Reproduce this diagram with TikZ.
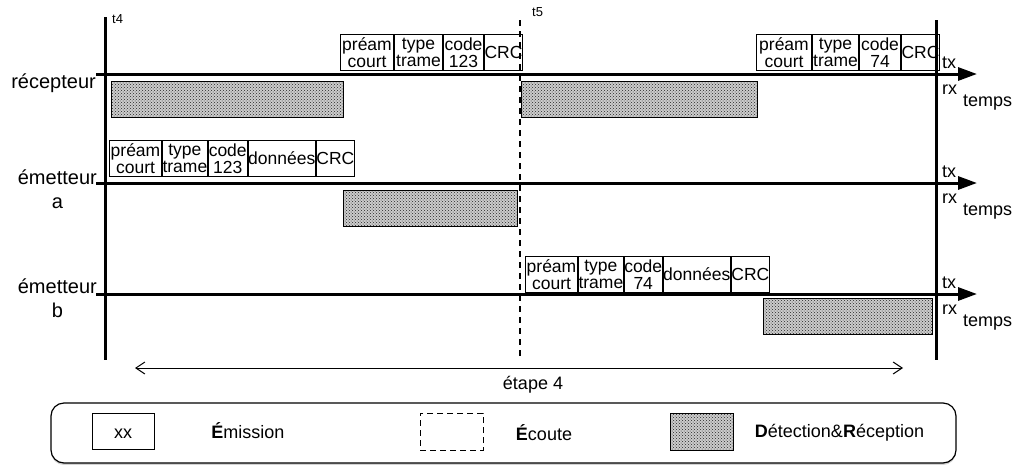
\documentclass[tikz,border=0pt]{standalone}
\usepackage{fontspec}
\setmainfont{Liberation Sans}
\usetikzlibrary{positioning,patterns,arrows.meta,shadows}

\begin{document}
\begin{tikzpicture}[x=1pt, y=-1pt,
    champ/.style={draw, line width=1pt, inner sep=0pt, minimum height=36pt,
        align=center, font=\fontsize{17.5}{17.5}\selectfont},
    recep/.style={draw, line width=1pt, inner sep=0pt, minimum height=36pt,
        preaction={fill=gray!40}, pattern=crosshatch dots, pattern color=black!85},
    axe/.style={line width=3pt},
    fleche/.style={line width=3pt, -{Triangle[length=19pt, width=13pt]}},
    lbl/.style={inner sep=0pt, align=center, font=\fontsize{20}{24}\selectfont},
    txrx/.style={inner sep=0pt, anchor=base west, font=\fontsize{18}{18}\selectfont},
    petit/.style={inner sep=0pt, anchor=base west, font=\fontsize{13}{13}\selectfont},
    leg/.style={inner sep=0pt, anchor=base, font=\fontsize{18}{18}\selectfont}]

    \useasboundingbox (0,0) rectangle (1022,464);

    % Points
    \coordinate (g0) at (105,17);
    \coordinate (g1) at (105,360);
    \coordinate (d0) at (936,20);
    \coordinate (d1) at (936,360);
    \coordinate (m0) at (520,20);
    \coordinate (m1) at (520,360);

    % Instants
    \draw[axe] (g0) -- (g1);
    \draw[axe] (d0) -- (d1);
    \draw[line width=1.2pt, dash pattern=on 6pt off 5pt] (m0) -- (m1);
    \node[petit] (t4) at (112,23) {t4};
    \node[petit] (t5) at (532,16) {t5};

    % Axes des temps
    \coordinate (r0) at (96,74);
    \coordinate (r1) at (977,74);
    \coordinate (a0) at (96,183);
    \coordinate (a1) at (977,183);
    \coordinate (b0) at (96,294);
    \coordinate (b1) at (977,294);
    \draw[fleche] (r0) -- (r1);
    \draw[fleche] (a0) -- (a1);
    \draw[fleche] (b0) -- (b1);

    % Noms des stations
    \node[lbl, anchor=base east] (rec) at (96,88) {récepteur};
    \node[lbl, anchor=north east] (ema) at (97,170) {émetteur\\a};
    \node[lbl, anchor=north east] (emb) at (97,279) {émetteur\\b};

    % tx / rx
    \node[txrx] (txr) at (942,68) {tx};
    \node[txrx] (rxr) at (942,94) {rx};
    \node[txrx] (tpr) at (963,106) {temps};
    \node[txrx] (txa) at (942,177) {tx};
    \node[txrx] (rxa) at (942,203) {rx};
    \node[txrx] (tpa) at (963,215) {temps};
    \node[txrx] (txb) at (942,288) {tx};
    \node[txrx] (rxb) at (942,314) {rx};
    \node[txrx] (tpb) at (963,326) {temps};

    % Trame 1 du recepteur
    \node[champ, minimum width=53pt, anchor=south west] (rp1) at (340,71) {préam\\court};
    \node[champ, minimum width=48pt, right=0pt of rp1] (rt1) {type\\trame};
    \node[champ, minimum width=40pt, right=0pt of rt1] (rc1) {code\\123};
    \node[champ, minimum width=36pt, right=0pt of rc1] (rk1) {CRC};

    % Trame 2 du recepteur
    \node[champ, minimum width=55pt, anchor=south west] (rp2) at (756,71) {préam\\court};
    \node[champ, minimum width=46pt, right=0pt of rp2] (rt2) {type\\trame};
    \node[champ, minimum width=41pt, right=0pt of rt2] (rc2) {code\\74};
    \node[champ, minimum width=35pt, right=0pt of rc2] (rk2) {CRC};

    % Trame de l'emetteur a
    \node[champ, minimum width=52pt, anchor=south west] (ap) at (109,177) {préam\\court};
    \node[champ, minimum width=42pt, right=0pt of ap] (at) {type\\trame};
    \node[champ, minimum width=39pt, right=0pt of at] (ac) {code\\123};
    \node[champ, minimum width=67pt, right=0pt of ac] (ad) {données};
    \node[champ, minimum width=34pt, right=0pt of ad] (ak) {CRC};

    % Trame de l'emetteur b
    \node[champ, minimum width=52pt, anchor=south west] (bp) at (525,293) {préam\\court};
    \node[champ, minimum width=44pt, right=0pt of bp] (bt) {type\\trame};
    \node[champ, minimum width=38pt, right=0pt of bt] (bc) {code\\74};
    \node[champ, minimum width=67pt, right=0pt of bc] (bd) {données};
    \node[champ, minimum width=36pt, right=0pt of bd] (bk) {CRC};

    % Detection et reception
    \node[recep, minimum width=232pt, anchor=north west] (rr1) at (111,81) {};
    \node[recep, minimum width=236pt, anchor=north west] (rr2) at (521,81) {};
    \node[recep, minimum width=174pt, anchor=north west] (ra) at (343,190) {};
    \node[recep, minimum width=169pt, anchor=north west] (rb) at (763,298) {};

    % Etape
    \coordinate (e0) at (135,368);
    \coordinate (e1) at (903,368);
    \draw[line width=1pt, {Straight Barb[length=9pt, width=12pt]}-{Straight Barb[length=9pt, width=12pt]}] (e0) -- (e1);
    \node[leg] (etape) at (533,389) {étape 4};

    % Legende
    \node[draw, line width=1.2pt, rounded corners=13pt, fill=white, inner sep=0pt,
        minimum width=905pt, minimum height=60pt,
        drop shadow={shadow xshift=0pt, shadow yshift=-2pt, opacity=0.35}] (cadre) at (503.5,433) {};
    \node[draw, line width=1pt, minimum width=62pt, minimum height=36pt, inner sep=0pt] (lx) at (123,431) {};
    \node[leg] (lxt) at (123,438) {xx};
    \node[leg] (lem) at (248,438) {\textbf{É}mission};
    \node[draw, line width=1pt, dash pattern=on 6pt off 4pt, minimum width=63pt,
        minimum height=37pt, inner sep=0pt] (lec) at (451.5,431.5) {};
    \node[leg] (lecl) at (544,440) {\textbf{É}coute};
    \node[recep, minimum width=63pt, minimum height=37pt] (lre) at (701.5,431.5) {};
    \node[leg] (lrel) at (839.5,437) {\textbf{D}étection\&\textbf{R}éception};

\end{tikzpicture}
\end{document}
